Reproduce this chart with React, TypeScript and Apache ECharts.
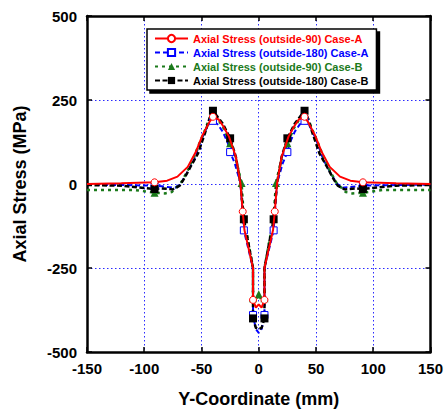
import React, { useEffect, useRef } from "react";
import * as echarts from "echarts";

// ---- data ----
const xTicks = { min: -150, max: 150, interval: 50 };
const yTicks = { min: -500, max: 500, interval: 250 };

const seriesNames = [
  "Axial Stress (outside-90) Case-A",
  "Axial Stress (outside-180) Case-A",
  "Axial Stress (outside-90) Case-B",
  "Axial Stress (outside-180) Case-B",
];

// Case-A outside-90 (red)
const a90X = [-150, -120, -91, -80, -71, -62, -55, -49, -43, -40, -35, -31, -26, -20, -16, -14, -12.5, -5, -5, -2.5, 0, 2.5, 5, 5, 12.5, 14, 16, 20, 26, 31, 35, 40, 43, 49, 55, 62, 71, 80, 91, 120, 150];
const a90Y = [0, 2, 5, 10, 22, 51, 95, 146, 185, 200, 192, 172, 141, 81, 2, -82, -137, -250, -345, -368, -358, -368, -345, -250, -137, -82, 2, 81, 141, 172, 192, 200, 185, 146, 95, 51, 22, 10, 5, 2, 0];
const a90M = [0, 0, 1, 0, 0, 0, 0, 0, 0, 1, 0, 0, 0, 0, 0, 1, 0, 0, 1, 0, 0, 0, 1, 0, 0, 1, 0, 0, 0, 0, 0, 1, 0, 0, 0, 0, 0, 0, 1, 0, 0];

// Case-A outside-180 (blue)
const a180X = [-150, -120, -91, -82, -73, -68, -62, -56, -52, -47, -43, -40, -36, -31.5, -27, -25, -21, -16, -13, -5, -5, -2.5, 0, 2.5, 5, 5, 13, 16, 21, 25, 27, 31.5, 36, 40, 43, 47, 52, 56, 62, 68, 73, 82, 91, 120, 150];
const a180Y = [-2, -3, -5, -8, -11, 2, 37, 76, 116, 156, 182, 188, 178, 156, 122, 95, 62, 3, -138, -250, -390, -432, -443, -432, -390, -250, -138, 3, 62, 95, 122, 156, 178, 188, 182, 156, 116, 76, 37, 2, -11, -8, -5, -3, -2];
const a180M = [0, 0, 1, 0, 0, 0, 0, 0, 0, 0, 0, 1, 0, 0, 0, 1, 0, 0, 1, 0, 1, 0, 0, 0, 1, 0, 1, 0, 0, 1, 0, 0, 0, 1, 0, 0, 0, 0, 0, 0, 0, 0, 1, 0, 0];

// Case-B outside-90 (green)
const b90X = [-150, -108, -91, -82, -76, -68, -62, -56, -52, -47, -43, -40, -35, -31, -25, -20, -15, -13, -5, -5, -2.5, 0, 2.5, 5, 5, 13, 15, 20, 25, 31, 35, 40, 43, 47, 52, 56, 62, 68, 76, 82, 91, 108, 150];
const b90Y = [-18, -18, -26, -28, -24, 3, 40, 85, 120, 160, 195, 205, 190, 168, 121, 75, 3, -100, -250, -340, -348, -328, -348, -340, -250, -100, 3, 75, 121, 168, 190, 205, 195, 160, 120, 85, 40, 3, -24, -28, -26, -18, -18];
const b90M = [0, 0, 1, 0, 0, 0, 0, 0, 0, 0, 0, 1, 0, 0, 1, 0, 1, 0, 0, 1, 0, 1, 0, 1, 0, 0, 1, 0, 1, 0, 0, 1, 0, 0, 0, 0, 0, 0, 0, 0, 1, 0, 0];

// Case-B outside-180 (black)
const b180X = [-150, -120, -91, -85, -75, -69, -65, -59, -53, -47, -43, -40, -36, -31.5, -25, -20, -16, -13, -5, -5, -2.5, 0, 2.5, 5, 5, 13, 16, 20, 25, 31.5, 36, 40, 43, 47, 53, 59, 65, 69, 75, 85, 91, 120, 150];
const b180Y = [-3, -5, -15, -13, -16, -5, 17, 55, 91, 151, 195, 218, 200, 180, 136, 81, 3, -105, -250, -400, -428, -432, -428, -400, -250, -105, 3, 81, 136, 180, 200, 218, 195, 151, 91, 55, 17, -5, -16, -13, -15, -5, -3];
const b180M = [0, 0, 1, 0, 0, 0, 0, 0, 0, 0, 0, 1, 0, 0, 1, 0, 0, 1, 0, 1, 0, 0, 0, 1, 0, 1, 0, 0, 1, 0, 0, 1, 0, 0, 0, 0, 0, 0, 0, 0, 1, 0, 0];

const FONT = "'Liberation Sans', Arial, sans-serif";

function build(xs: number[], ys: number[], ms: number[]) {
  return xs.map((x, i) =>
    ms[i] ? { value: [x, ys[i]] } : { value: [x, ys[i]], symbol: "none" }
  );
}

export default function App() {
  const ref = useRef<HTMLDivElement>(null);
  useEffect(() => {
    const chart = echarts.init(ref.current!, undefined, { renderer: "svg" });
    const axisLine = { show: true, onZero: false, lineStyle: { color: "#000", width: 2.5 } };
    const tick = { show: true, inside: true, length: 5, lineStyle: { color: "#000", width: 1.5 } };
    const split = { show: true, lineStyle: { color: "#2a2aff", type: [1.5, 2.5], width: 1 } };
    const labelStyle = { color: "#000", fontWeight: "bold" as const, fontSize: 15, fontFamily: FONT };
    const colors = ["#ff0000", "#0000ff", "#1b7a1b", "#000000"];
    chart.setOption({
      animation: false,
      backgroundColor: "#fff",
      grid: { left: 87, right: 14, top: 16, bottom: 63 },
      legend: {
        orient: "vertical",
        left: 147,
        top: 29,
        padding: [4, 8, 4, 7],
        itemWidth: 33,
        itemHeight: 9,
        itemGap: 3,
        backgroundColor: "#fff",
        borderColor: "#000",
        borderWidth: 1.5,
        borderRadius: 0,
        shadowColor: "#000",
        shadowOffsetX: 3,
        shadowOffsetY: 3,
        shadowBlur: 0.5,
        textStyle: { fontFamily: FONT, fontWeight: "bold", fontSize: 11 },
        data: seriesNames.map((n, i) => ({ name: n, textStyle: { color: colors[i] } })),
      },
      xAxis: [
        {
          type: "value",
          ...xTicks,
          axisLine,
          axisTick: tick,
          splitLine: split,
          axisLabel: { ...labelStyle, margin: 9 },
          name: "Y-Coordinate (mm)",
          nameLocation: "middle",
          nameGap: 38,
          nameTextStyle: { color: "#000", fontWeight: "bold", fontSize: 18, fontFamily: FONT },
        },
        {
          type: "value",
          position: "top",
          ...xTicks,
          axisLine,
          axisTick: tick,
          splitLine: { show: false },
          axisLabel: { show: false },
        },
      ],
      yAxis: [
        {
          type: "value",
          ...yTicks,
          axisLine,
          axisTick: tick,
          splitLine: split,
          axisLabel: { ...labelStyle, margin: 10 },
          name: "Axial Stress (MPa)",
          nameLocation: "middle",
          nameGap: 58,
          nameTextStyle: { color: "#000", fontWeight: "bold", fontSize: 18, fontFamily: FONT },
        },
        {
          type: "value",
          position: "right",
          ...yTicks,
          axisLine,
          axisTick: tick,
          splitLine: { show: false },
          axisLabel: { show: false },
        },
      ],
      series: [
        {
          name: seriesNames[0],
          type: "line",
          data: build(a90X, a90Y, a90M),
          symbol: "circle",
          symbolSize: 7,
          itemStyle: { color: "#fff", borderColor: colors[0], borderWidth: 1 },
          lineStyle: { color: colors[0], width: 2 },
          color: colors[0],
          z: 3,
        },
        {
          name: seriesNames[1],
          type: "line",
          data: build(a180X, a180Y, a180M),
          symbol: "rect",
          symbolSize: 7,
          itemStyle: { color: "#fff", borderColor: colors[1], borderWidth: 1 },
          lineStyle: { color: colors[1], width: 2, type: [5, 3] },
          color: colors[1],
          z: 2,
        },
        {
          name: seriesNames[2],
          type: "line",
          data: build(b90X, b90Y, b90M),
          symbol: "triangle",
          symbolSize: 8,
          itemStyle: { color: colors[2], borderWidth: 0 },
          lineStyle: { color: colors[2], width: 2.5, type: [3, 4] },
          color: colors[2],
          z: 2,
        },
        {
          name: seriesNames[3],
          type: "line",
          data: build(b180X, b180Y, b180M),
          symbol: "rect",
          symbolSize: 8,
          itemStyle: { color: colors[3], borderWidth: 0 },
          lineStyle: { color: colors[3], width: 2.5, type: [5, 2.5] },
          color: colors[3],
          z: 2,
        },
      ],
    });
    return () => chart.dispose();
  }, []);
  return (
    <div
      ref={ref}
      style={{ position: "fixed", left: 0, top: 0, width: 446, height: 415 }}
    />
  );
}
